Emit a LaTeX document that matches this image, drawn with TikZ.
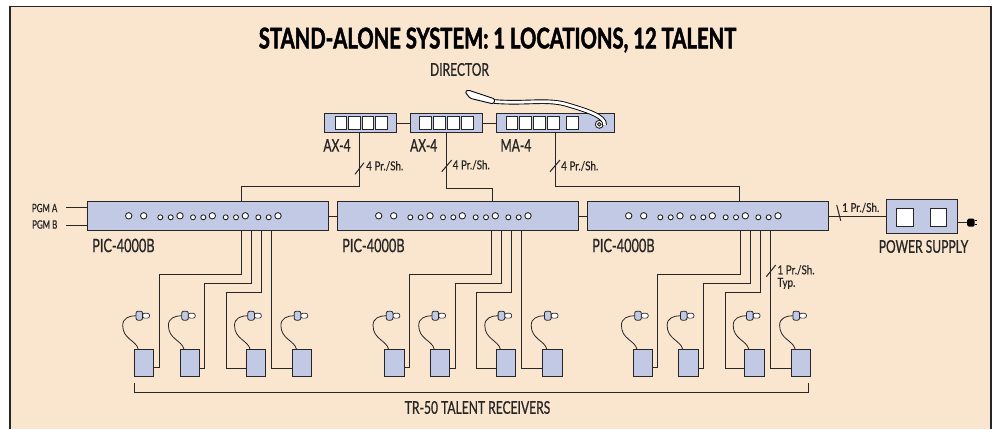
\documentclass[tikz,border=0pt]{standalone}
\usepackage{fontspec}
\setmainfont[FakeStretch=0.69,FakeBold=0.7]{Lato}
\newfontfamily\smallfont[FakeStretch=0.8,FakeBold=0.4]{Lato}
\newfontfamily\headfont[FakeStretch=0.71,FakeBold=1.6]{Lato Bold}
\usepackage{xcolor}
\usetikzlibrary{positioning,calc}

\definecolor{panelbg}{HTML}{FAE5CF}
\definecolor{unitblue}{HTML}{C2C9E5}
\definecolor{inkline}{HTML}{262626}

\begin{document}
\begin{tikzpicture}[
    x=1pt, y=-1pt,
    wire/.style={draw=inkline, line width=1pt},
    unit/.style={rectangle, draw=inkline, line width=1pt, fill=unitblue, inner sep=0pt, outer sep=0pt},
    picbox/.style={unit, minimum width=241pt, minimum height=29pt},
    ctlbox/.style={unit, minimum width=72.4pt, minimum height=18.6pt},
    rxbox/.style={unit, minimum width=19.4pt, minimum height=27.4pt},
    key/.style={rectangle, draw=inkline, line width=0.9pt, fill=white, inner sep=0pt, outer sep=0pt, minimum width=11.7pt, minimum height=12.6pt},
    bigdot/.style={circle, draw=inkline, line width=0.9pt, fill=white, inner sep=0pt, minimum size=6.4pt},
    smalldot/.style={circle, draw=inkline, line width=0.9pt, fill=white, inner sep=0pt, minimum size=5pt},
    jack/.style={rectangle, rounded corners=2pt, draw=inkline, line width=0.8pt, fill=unitblue, inner sep=0pt, outer sep=0pt, minimum width=6.6pt, minimum height=9pt},
    jackloop/.style={rectangle, rounded corners=2pt, draw=inkline, line width=0.7pt, fill=white, inner sep=0pt, minimum width=7pt, minimum height=4.8pt},
    title/.style={inner sep=0pt, font=\fontsize{28.5}{28}\headfont},
    biglabel/.style={inner sep=0pt, text=inkline, font=\fontsize{17.5}{18}\selectfont},
    piclabel/.style={inner sep=0pt, text=inkline, font=\fontsize{18.5}{18}\selectfont},
    pgmlabel/.style={inner sep=0pt, text=inkline, font=\fontsize{11.5}{12}\selectfont},
    smalllabel/.style={inner sep=0pt, text=inkline, align=left, font=\fontsize{12.3}{12.5}\smallfont}
]
\useasboundingbox (0,0) rectangle (995,429);

% panel
\fill[white] (0,0) rectangle (995,429);
\fill[panelbg] (10,6.5) rectangle (991,429);
\draw[draw=inkline, line width=1.3pt] (10,429) -- (10,6.5) -- (991,6.5) -- (991,429);

\node[title] (heading) at (497.5,40) {STAND-ALONE SYSTEM: 1 LOCATIONS, 12 TALENT};
\node[biglabel] (director) at (459.5,69.5) {DIRECTOR};

% director units
\node[ctlbox, anchor=north west] (ax1) at (324.2,113.8) {};
\node[ctlbox, right=13.8pt of ax1] (ax2) {};
\node[ctlbox, right=13.8pt of ax2, minimum width=117.6pt] (ma) {};
\foreach \k/\kx in {1/10.8, 2/24.3, 3/38, 4/51.5} {
  \node[key, anchor=west] (axa\k) at ([xshift=\kx pt]ax1.west) {};
}
\foreach \k/\kx in {1/9.5, 2/23.3, 3/37.1, 4/50.9} {
  \node[key, anchor=west] (axb\k) at ([xshift=\kx pt]ax2.west) {};
}
\foreach \k/\kx in {1/9.4, 2/23, 3/37, 4/50.7, 5/69.7} {
  \node[key, anchor=west] (mak\k) at ([xshift=\kx pt]ma.west) {};
}
\node[biglabel, below right=6.5pt and -1pt of ax1.south west] (ax1lbl) {AX-4};
\node[biglabel, below right=6.5pt and -0.5pt of ax2.south west] (ax2lbl) {AX-4};
\node[biglabel, below right=6.5pt and 3.7pt of ma.south west] (malbl) {MA-4};

\draw[wire] (ax1) -- (ax2);
\draw[wire] (ax2) -- (ma);

% gooseneck
\node[circle, draw=inkline, line width=0.9pt, fill=white, inner sep=0pt, minimum size=8pt] (micbase) at (599.3,124.3) {};
\node[circle, draw=inkline, line width=0.9pt, fill=unitblue, inner sep=0pt, minimum size=3.6pt] (micbore) at (micbase) {};
\draw[draw=black, line width=0.9pt, double=white, double distance=2.8pt]
  (604.5,125) .. controls (606,116) and (585,110) .. (565,104) .. controls (545,99) and (525,104) .. (494,101.5);
\filldraw[draw=black, line width=0.9pt, fill=white, rounded corners=1.5pt]
  (465,91.7) -- (468,90) -- (495,99) -- (493.6,104) -- (470,98.3) -- cycle;

% main units
\node[picbox, anchor=north west] (pic1) at (87.5,201.5) {};
\node[picbox, right=9pt of pic1] (pic2) {};
\node[picbox, right=9pt of pic2] (pic3) {};
\draw[wire] (pic1) -- (pic2);
\draw[wire] (pic2) -- (pic3);
\node[piclabel, below right=8pt and 4.5pt of pic1.south west] (pic1lbl) {PIC-4000B};
\node[piclabel, below right=8pt and 4.5pt of pic2.south west] (pic2lbl) {PIC-4000B};
\node[piclabel, below right=8pt and 4.5pt of pic3.south west] (pic3lbl) {PIC-4000B};

\foreach \g in {1,2,3} {
  \foreach \d/\dx in {1/41.2, 2/56.2, 3/92.5, 4/124.8, 5/157.8, 6/190.5} {
    \node[bigdot] (dot\g-\d) at ([xshift=\dx pt,yshift=0.2pt]pic\g.west) {};
  }
  \foreach \d/\dx in {1/72.8, 2/83.2, 3/105.5, 4/115.8, 5/138.2, 6/148.5, 7/170.8, 8/181.2} {
    \node[smalldot] (sdot\g-\d) at ([xshift=\dx pt,yshift=-1.3pt]pic\g.west) {};
  }
}

% connections from the director units
\coordinate (ax1drop) at ([xshift=35.5pt]ax1.south west);
\coordinate (ax2drop) at ([xshift=35.8pt]ax2.south west);
\coordinate (madrop) at ([xshift=58.4pt]ma.south west);
\draw[wire] (ax1drop) -- ++(0,54.4) -| ([xshift=153.8pt]pic1.north west);
\draw[wire] (ax2drop) -- ++(0,55.7) -| ([xshift=154.8pt]pic2.north west);
\draw[wire] (madrop) -- ++(0,53.7) -| ([xshift=151.7pt]pic3.north west);

\node[smalllabel, anchor=west] (ax1pair) at (366,166) {4 Pr./Sh.};
\node[smalllabel, anchor=west] (ax2pair) at (452.5,165) {4 Pr./Sh.};
\node[smalllabel, anchor=west] (mapair) at (561,166) {4 Pr./Sh.};
\draw[wire] ([xshift=-11pt,yshift=-8.3pt]ax1pair.west) -- ([xshift=-2pt,yshift=3.3pt]ax1pair.west);
\draw[wire] ([xshift=-10.8pt,yshift=-6.7pt]ax2pair.west) -- ([xshift=-0.8pt,yshift=5pt]ax2pair.west);
\draw[wire] ([xshift=-11pt,yshift=-5.7pt]mapair.west) -- ([xshift=-1pt,yshift=6pt]mapair.west);

% program inputs
\node[pgmlabel, anchor=east] (pgma) at (57.5,208) {PGM A};
\node[pgmlabel, anchor=east] (pgmb) at (57.5,224.5) {PGM B};
\coordinate (pgmaend) at (66,207.7);
\coordinate (pgmbend) at (66,225.3);
\draw[wire] (pgmaend) -- (pgmaend -| pic1.west);
\draw[wire] (pgmbend) -- (pgmbend -| pic1.west);

% receivers
\foreach \g/\dx/\tap in {1/0/153.8, 2/250.3/154.2, 3/498.7/152.7} {
  \node[rxbox, anchor=north west] (rx\g-1) at (134.3+\dx,349.3) {};
  \node[rxbox, right=26.3pt of rx\g-1] (rx\g-2) {};
  \node[rxbox, right=46.7pt of rx\g-2] (rx\g-3) {};
  \node[rxbox, right=27pt of rx\g-3] (rx\g-4) {};
  \foreach \r in {1,2,3,4} {
    \node[jackloop] (loop\g-\r) at ([xshift=2pt,yshift=33.6pt]rx\g-\r.north) {};
    \node[jack] (jack\g-\r) at ([xshift=-4.7pt,yshift=33.6pt]rx\g-\r.north) {};
    \draw[draw=inkline, line width=0.8pt] ([xshift=-5.7pt]rx\g-\r.north)
      .. controls +(-2,-9) and +(0,14) .. ([xshift=-21.3pt,yshift=24pt]rx\g-\r.north)
      .. controls +(0,-7) and +(-7,0) .. (jack\g-\r.west);
  }
  \draw[wire] ([xshift=\tap pt]pic\g.south west) -- ++(0,43.5) -| ([xshift=5.3pt,yshift=-4.3pt]rx\g-1.east) -- ([yshift=-4.3pt]rx\g-1.east);
  \draw[wire] ([xshift=\tap pt+10pt]pic\g.south west) -- ++(0,52.8) -| ([xshift=5.3pt,yshift=-5.7pt]rx\g-2.east) -- ([yshift=-5.7pt]rx\g-2.east);
  \draw[wire] ([xshift=\tap pt+20pt]pic\g.south west) -- ++(0,62.2) -| ([xshift=-19.7pt,yshift=-5.7pt]rx\g-3.west) -- ([yshift=-5.7pt]rx\g-3.west);
  \draw[wire] ([xshift=\tap pt+30pt]pic\g.south west) |- ([yshift=-5.7pt]rx\g-4.west);
}

\node[smalllabel, anchor=north west] (typlbl) at (777.3,265) {1 Pr./Sh.\\Typ.};
\draw[wire] ([xshift=-11pt,yshift=-11.7pt]typlbl.north west) -- ([xshift=-1.6pt,yshift=0pt]typlbl.north west);

% receiver bracket
\draw[wire] ([yshift=-6.6pt]rx1-1.south west) -- ++(0,9) -| ([xshift=-1.7pt,yshift=-6.6pt]rx3-4.south east);
\node[biglabel] (rxlbl) at (477.5,407.5) {TR-50 TALENT RECEIVERS};

% power supply
\node[unit, anchor=north west, minimum width=71pt, minimum height=33.3pt] (psu) at (886.3,199.7) {};
\node[key, minimum width=16.6pt, minimum height=18pt, anchor=north west] (psua) at (896.7,208.7) {};
\node[key, minimum width=16.6pt, minimum height=18pt, anchor=north west] (psub) at (930,208.7) {};
\node[biglabel] (psulbl) at (923.5,246.5) {POWER SUPPLY};
\draw[wire] (pic3.east) -- (pic3.east -| psu.west);
\node[smalllabel, anchor=west] (psupair) at (842,207.7) {1 Pr./Sh.};
\draw[wire] ([xshift=-5.3pt,yshift=2.7pt]psupair.west) -- ([xshift=-1.3pt,yshift=-13pt]psupair.west);

% mains plug
\coordinate (plugcord) at ([yshift=-6.3pt]psu.east);
\node[rectangle, rounded corners=1.5pt, fill=black, inner sep=0pt, minimum width=7.5pt, minimum height=8pt, anchor=west] (plughead) at ([xshift=9.7pt]plugcord) {};
\draw[wire] (plugcord) -- (plughead);
\draw[draw=black, line width=1pt] ([yshift=1.8pt]plughead.east) -- ++(2.5,0);
\draw[draw=black, line width=1pt] ([yshift=-1.8pt]plughead.east) -- ++(2.5,0);

\end{tikzpicture}
\end{document}
